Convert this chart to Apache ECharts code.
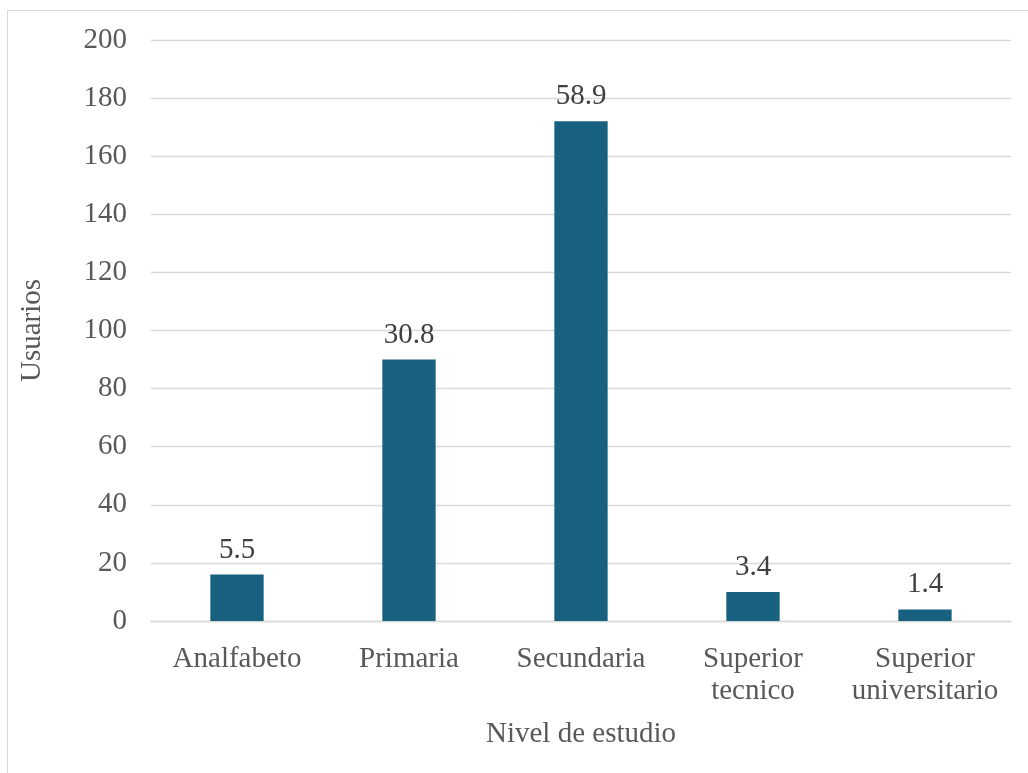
<!DOCTYPE html>
<html>
<head>
<meta charset="utf-8">
<script src="https://cdn.jsdelivr.net/npm/echarts@6/dist/echarts.min.js"></script>
<style>
  html, body { margin: 0; padding: 0; background: #fff; }
  #chart { width: 1028px; height: 773px; }
</style>
</head>
<body>
<div id="chart"></div>
<script>
// Education levels and number of users in each
const categories = ['Analfabeto', 'Primaria', 'Secundaria', 'Superior\ntecnico', 'Superior\nuniversitario'];
const usuarios = [16, 90, 172, 10, 4];
// Share of users (%) shown above each bar
const porcentajes = ['5.5', '30.8', '58.9', '3.4', '1.4'];
const yTicks = { min: 0, max: 200, interval: 20 };

const serif = 'Liberation Serif, Times New Roman, serif';
const fs = 29;
const chart = echarts.init(document.getElementById('chart'), null, { renderer: 'canvas' });

chart.setOption({
  backgroundColor: '#ffffff',
  animation: false,
  textStyle: { fontFamily: serif },
  graphic: [{
    type: 'rect',
    shape: { x: 7.5, y: 10.5, width: 1040, height: 800 },
    style: { fill: 'none', stroke: '#d9d9d9', lineWidth: 1 },
    silent: true
  }],
  grid: { left: 151, right: 17, top: 40, bottom: 152, containLabel: false },
  xAxis: {
    type: 'category',
    data: categories,
    name: 'Nivel de estudio',
    nameLocation: 'middle',
    nameGap: 99,
    nameTextStyle: { fontFamily: serif, fontSize: fs, color: '#595959' },
    axisLine: { show: true, lineStyle: { color: '#d9d9d9', width: 1.3 } },
    axisTick: { show: false },
    axisLabel: { fontFamily: serif, fontSize: fs, color: '#595959', lineHeight: 32, margin: 22, interval: 0 }
  },
  yAxis: {
    type: 'value',
    min: yTicks.min,
    max: yTicks.max,
    interval: yTicks.interval,
    name: 'Usuarios',
    nameLocation: 'middle',
    nameGap: 104,
    nameRotate: 90,
    nameTextStyle: { fontFamily: serif, fontSize: fs, color: '#595959' },
    axisLine: { show: false },
    axisTick: { show: false },
    splitLine: { lineStyle: { color: '#d9d9d9', width: 1.3 } },
    axisLabel: { fontFamily: serif, fontSize: fs, color: '#595959', margin: 24 }
  },
  series: [{
    type: 'bar',
    data: usuarios,
    barWidth: '31%',
    itemStyle: { color: '#17607f' },
    label: {
      show: true,
      position: 'top',
      distance: 10,
      fontFamily: serif,
      fontSize: fs,
      color: '#404040',
      formatter: (p) => porcentajes[p.dataIndex]
    }
  }]
});
</script>
</body>
</html>
